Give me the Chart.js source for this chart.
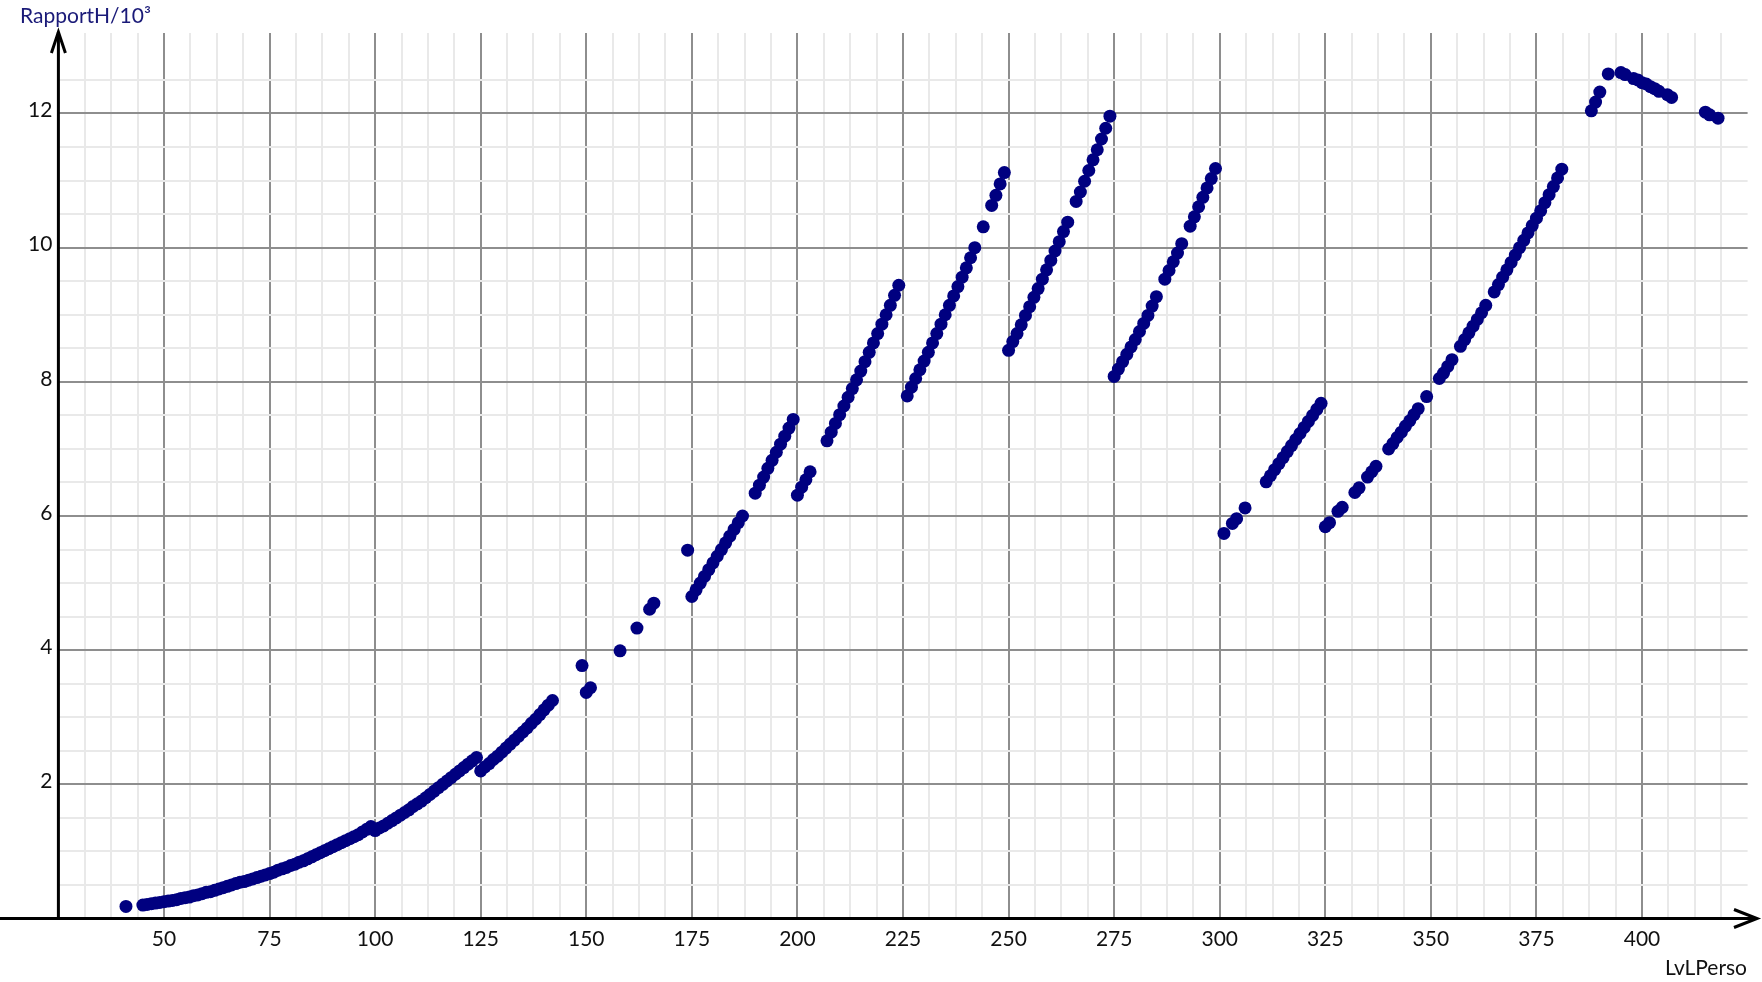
<!DOCTYPE html>
<html>
<head>
<meta charset="utf-8">
<title>RapportH / LvLPerso</title>
<script src="https://cdn.jsdelivr.net/npm/chart.js@4"></script>
<style>
  html, body { margin: 0; padding: 0; background: #fff; }
  #wrap { width: 1762px; height: 982px; }
</style>
</head>
<body>
<div id="wrap"><canvas id="rapportChart" width="1762" height="982"></canvas></div>
<script>
// levels (x) and ratio / 1000 (y), one line per run of points
const lvl = [
  41,
  45, 46, 47, 48, 49, 50, 51, 52, 53, 54, 55, 56, 57, 58, 59, 60, 61, 62, 63, 64, 65, 66, 67, 68, 69, 70, 71, 72,
  73, 74, 75, 76, 77, 78, 79, 80, 81, 82, 83, 84, 85, 86, 87, 88, 89, 90, 91, 92, 93, 94, 95, 96, 97, 98, 99,
  100, 101, 102, 103, 104, 105, 106, 107, 108, 109, 110, 111, 112, 113, 114, 115, 116, 117, 118, 119, 120, 121, 122, 123, 124,
  125, 126, 127, 128, 129, 130, 131, 132, 133, 134, 135, 136, 137, 138, 139, 140, 141, 142,
  149, 150, 151, 158, 162, 165, 166, 174,
  175, 176, 177, 178, 179, 180, 181, 182, 183, 184, 185, 186, 187,
  190, 191, 192, 193, 194, 195, 196, 197, 198, 199,
  200, 201, 202, 203,
  207, 208, 209, 210, 211, 212, 213, 214, 215, 216, 217, 218, 219, 220, 221, 222, 223, 224,
  226, 227, 228, 229, 230, 231, 232, 233, 234, 235, 236, 237, 238, 239, 240, 241, 242,
  244, 246, 247, 248, 249,
  250, 251, 252, 253, 254, 255, 256, 257, 258, 259, 260, 261, 262, 263, 264,
  266, 267, 268, 269, 270, 271, 272, 273, 274,
  275, 276, 277, 278, 279, 280, 281, 282, 283, 284, 285,
  287, 288, 289, 290, 291,
  293, 294, 295, 296, 297, 298, 299,
  301, 303, 304, 306,
  311, 312, 313, 314, 315, 316, 317, 318, 319, 320, 321, 322, 323, 324,
  325, 326, 328, 329, 332, 333, 335, 336, 337,
  340, 341, 342, 343, 344, 345, 346, 347, 349,
  352, 353, 354, 355,
  357, 358, 359, 360, 361, 362, 363,
  365, 366, 367, 368, 369, 370, 371, 372, 373, 374, 375, 376, 377, 378, 379, 380, 381,
  388, 389, 390, 392,
  395, 396, 398, 399, 400, 401, 402, 403, 404, 406, 407,
  415, 416, 418
];

const rapport = [
  0.18,
  0.20, 0.21, 0.22, 0.23, 0.24, 0.25, 0.26, 0.27, 0.28, 0.30, 0.31, 0.32, 0.34, 0.35, 0.37, 0.39, 0.40, 0.42, 0.44, 0.46, 0.48, 0.50, 0.52, 0.54, 0.55, 0.57, 0.59, 0.61,
  0.63, 0.65, 0.67, 0.69, 0.72, 0.74, 0.76, 0.79, 0.81, 0.84, 0.86, 0.89, 0.92, 0.95, 0.98, 1.01, 1.04, 1.07, 1.10, 1.13, 1.16, 1.19, 1.22, 1.25, 1.29, 1.33, 1.37,
  1.31, 1.35, 1.38, 1.42, 1.46, 1.50, 1.54, 1.58, 1.62, 1.67, 1.71, 1.75, 1.80, 1.85, 1.90, 1.95, 2.00, 2.05, 2.10, 2.15, 2.20, 2.25, 2.30, 2.35, 2.40,
  2.20, 2.26, 2.31, 2.37, 2.42, 2.48, 2.54, 2.60, 2.66, 2.72, 2.78, 2.84, 2.91, 2.97, 3.04, 3.11, 3.18, 3.25,
  3.77, 3.37, 3.44, 3.99, 4.33, 4.61, 4.70, 5.49,
  4.80, 4.90, 5.00, 5.10, 5.20, 5.30, 5.40, 5.50, 5.60, 5.70, 5.80, 5.90, 6.00,
  6.34, 6.46, 6.58, 6.71, 6.83, 6.95, 7.07, 7.19, 7.31, 7.44,
  6.31, 6.43, 6.54, 6.66,
  7.12, 7.25, 7.38, 7.51, 7.64, 7.77, 7.90, 8.03, 8.16, 8.30, 8.44, 8.58, 8.72, 8.86, 9.00, 9.14, 9.29, 9.44,
  7.79, 7.92, 8.05, 8.18, 8.31, 8.44, 8.58, 8.72, 8.86, 9.00, 9.14, 9.28, 9.42, 9.56, 9.70, 9.85, 10.00,
  10.31, 10.63, 10.78, 10.95, 11.12,
  8.47, 8.60, 8.72, 8.85, 8.99, 9.12, 9.26, 9.39, 9.53, 9.67, 9.81, 9.95, 10.09, 10.24, 10.38,
  10.69, 10.83, 10.99, 11.15, 11.31, 11.46, 11.62, 11.78, 11.96,
  8.08, 8.19, 8.30, 8.41, 8.52, 8.63, 8.75, 8.87, 8.99, 9.13, 9.27,
  9.53, 9.66, 9.79, 9.92, 10.06,
  10.32, 10.46, 10.61, 10.75, 10.89, 11.03, 11.18,
  5.74, 5.89, 5.96, 6.12,
  6.51, 6.60, 6.69, 6.78, 6.87, 6.96, 7.05, 7.14, 7.23, 7.32, 7.41, 7.50, 7.59, 7.68,
  5.84, 5.90, 6.07, 6.13, 6.35, 6.42, 6.58, 6.66, 6.74,
  7.00, 7.08, 7.17, 7.25, 7.34, 7.42, 7.51, 7.60, 7.78,
  8.05, 8.13, 8.23, 8.33,
  8.53, 8.63, 8.73, 8.83, 8.93, 9.03, 9.14,
  9.34, 9.45, 9.56, 9.67, 9.78, 9.89, 10.00, 10.11, 10.22, 10.33, 10.44, 10.55, 10.67, 10.79, 10.91, 11.04, 11.17,
  12.04, 12.17, 12.32, 12.59,
  12.61, 12.58, 12.52, 12.50, 12.46, 12.44, 12.40, 12.37, 12.33, 12.28, 12.24,
  12.02, 11.98, 11.93
];

const xTickLabels = [50, 75, 100, 125, 150, 175, 200, 225, 250, 275, 300, 325, 350, 375, 400];
const yTickLabels = [2, 4, 6, 8, 10, 12];

const X_MIN = 25, X_MAX = 425, X_MINOR = 6.25;
const Y_MIN = 0, Y_MAX = 13.2, Y_MINOR = 0.5;

const FONT = 'Lato, "Open Sans", sans-serif';
const MAJOR = '#8e8e8e';
const MINOR = '#e9e9e9';

// 1. Black axes with open arrow heads + axis titles
const axisArrows = {
  id: 'axisArrows',
  beforeDatasetsDraw(chart) {
    const { ctx, scales: { x, y } } = chart;
    const x0 = x.getPixelForValue(X_MIN);
    const y0 = y.getPixelForValue(Y_MIN);
    const yTop = chart.chartArea.top - 1;
    const xEnd = chart.width - 5;

    ctx.save();
    ctx.strokeStyle = '#000';
    ctx.lineWidth = 3;
    ctx.beginPath();
    ctx.moveTo(0, y0);
    ctx.lineTo(xEnd, y0);
    ctx.moveTo(x0, y0);
    ctx.lineTo(x0, yTop);
    ctx.stroke();

    ctx.lineJoin = 'miter';
    ctx.beginPath();
    ctx.moveTo(xEnd - 23, y0 - 9);
    ctx.lineTo(xEnd, y0);
    ctx.lineTo(xEnd - 23, y0 + 9);
    ctx.moveTo(x0 - 7, yTop + 21);
    ctx.lineTo(x0, yTop);
    ctx.lineTo(x0 + 7, yTop + 21);
    ctx.stroke();
    ctx.restore();
  },
  afterDraw(chart) {
    const { ctx } = chart;
    ctx.save();
    ctx.font = '21px ' + FONT;
    ctx.textBaseline = 'alphabetic';
    ctx.fillStyle = '#1a1a78';
    ctx.textAlign = 'left';
    ctx.fillText('RapportH/10³', 20, 23);
    ctx.fillStyle = '#111';
    ctx.textAlign = 'right';
    ctx.fillText('LvLPerso', 1747, 975);
    ctx.restore();
  }
};

// 2. Build the chart
new Chart(document.getElementById('rapportChart'), {
  type: 'scatter',
  data: {
    datasets: [{
      label: 'RapportH/10³',
      data: lvl.map((v, i) => ({ x: v, y: rapport[i] })),
      pointRadius: 6.5,
      pointHoverRadius: 6.5,
      pointBackgroundColor: '#000080',
      pointBorderWidth: 0,
      showLine: false
    }]
  },
  options: {
    responsive: false,
    animation: false,
    devicePixelRatio: 1,
    layout: { padding: { left: 0, right: 14.4, top: 33, bottom: 0 } },
    plugins: {
      legend: { display: false },
      tooltip: { enabled: false }
    },
    scales: {
      x: {
        type: 'linear',
        min: X_MIN,
        max: X_MAX,
        afterFit: s => { s.height = 63.5; },
        afterBuildTicks: s => {
          const t = [];
          for (let v = X_MIN + X_MINOR; v < X_MAX - 0.01; v += X_MINOR) t.push({ value: v });
          s.ticks = t;
        },
        grid: {
          drawTicks: false,
          color: c => (c.tick && c.tick.value % 25 === 0) ? MAJOR : MINOR,
          lineWidth: 2
        },
        border: { display: false },
        ticks: {
          autoSkip: false,
          maxRotation: 0,
          padding: 8,
          color: '#111',
          font: { family: FONT, size: 21 },
          callback: v => xTickLabels.includes(v) ? String(v) : ''
        }
      },
      y: {
        type: 'linear',
        min: Y_MIN,
        max: Y_MAX,
        afterFit: s => { s.width = 58.4; },
        afterBuildTicks: s => {
          const t = [];
          for (let v = Y_MINOR; v < 13 - 0.01; v += Y_MINOR) t.push({ value: Math.round(v * 10) / 10 });
          s.ticks = t;
        },
        grid: {
          drawTicks: false,
          color: c => (c.tick && c.tick.value % 2 === 0) ? MAJOR : MINOR,
          lineWidth: 2
        },
        border: { display: false },
        ticks: {
          autoSkip: false,
          padding: 6,
          labelOffset: -3,
          color: '#111',
          font: { family: FONT, size: 21 },
          callback: v => yTickLabels.includes(v) ? String(v) : ''
        }
      }
    }
  },
  plugins: [axisArrows]
});
</script>
</body>
</html>
